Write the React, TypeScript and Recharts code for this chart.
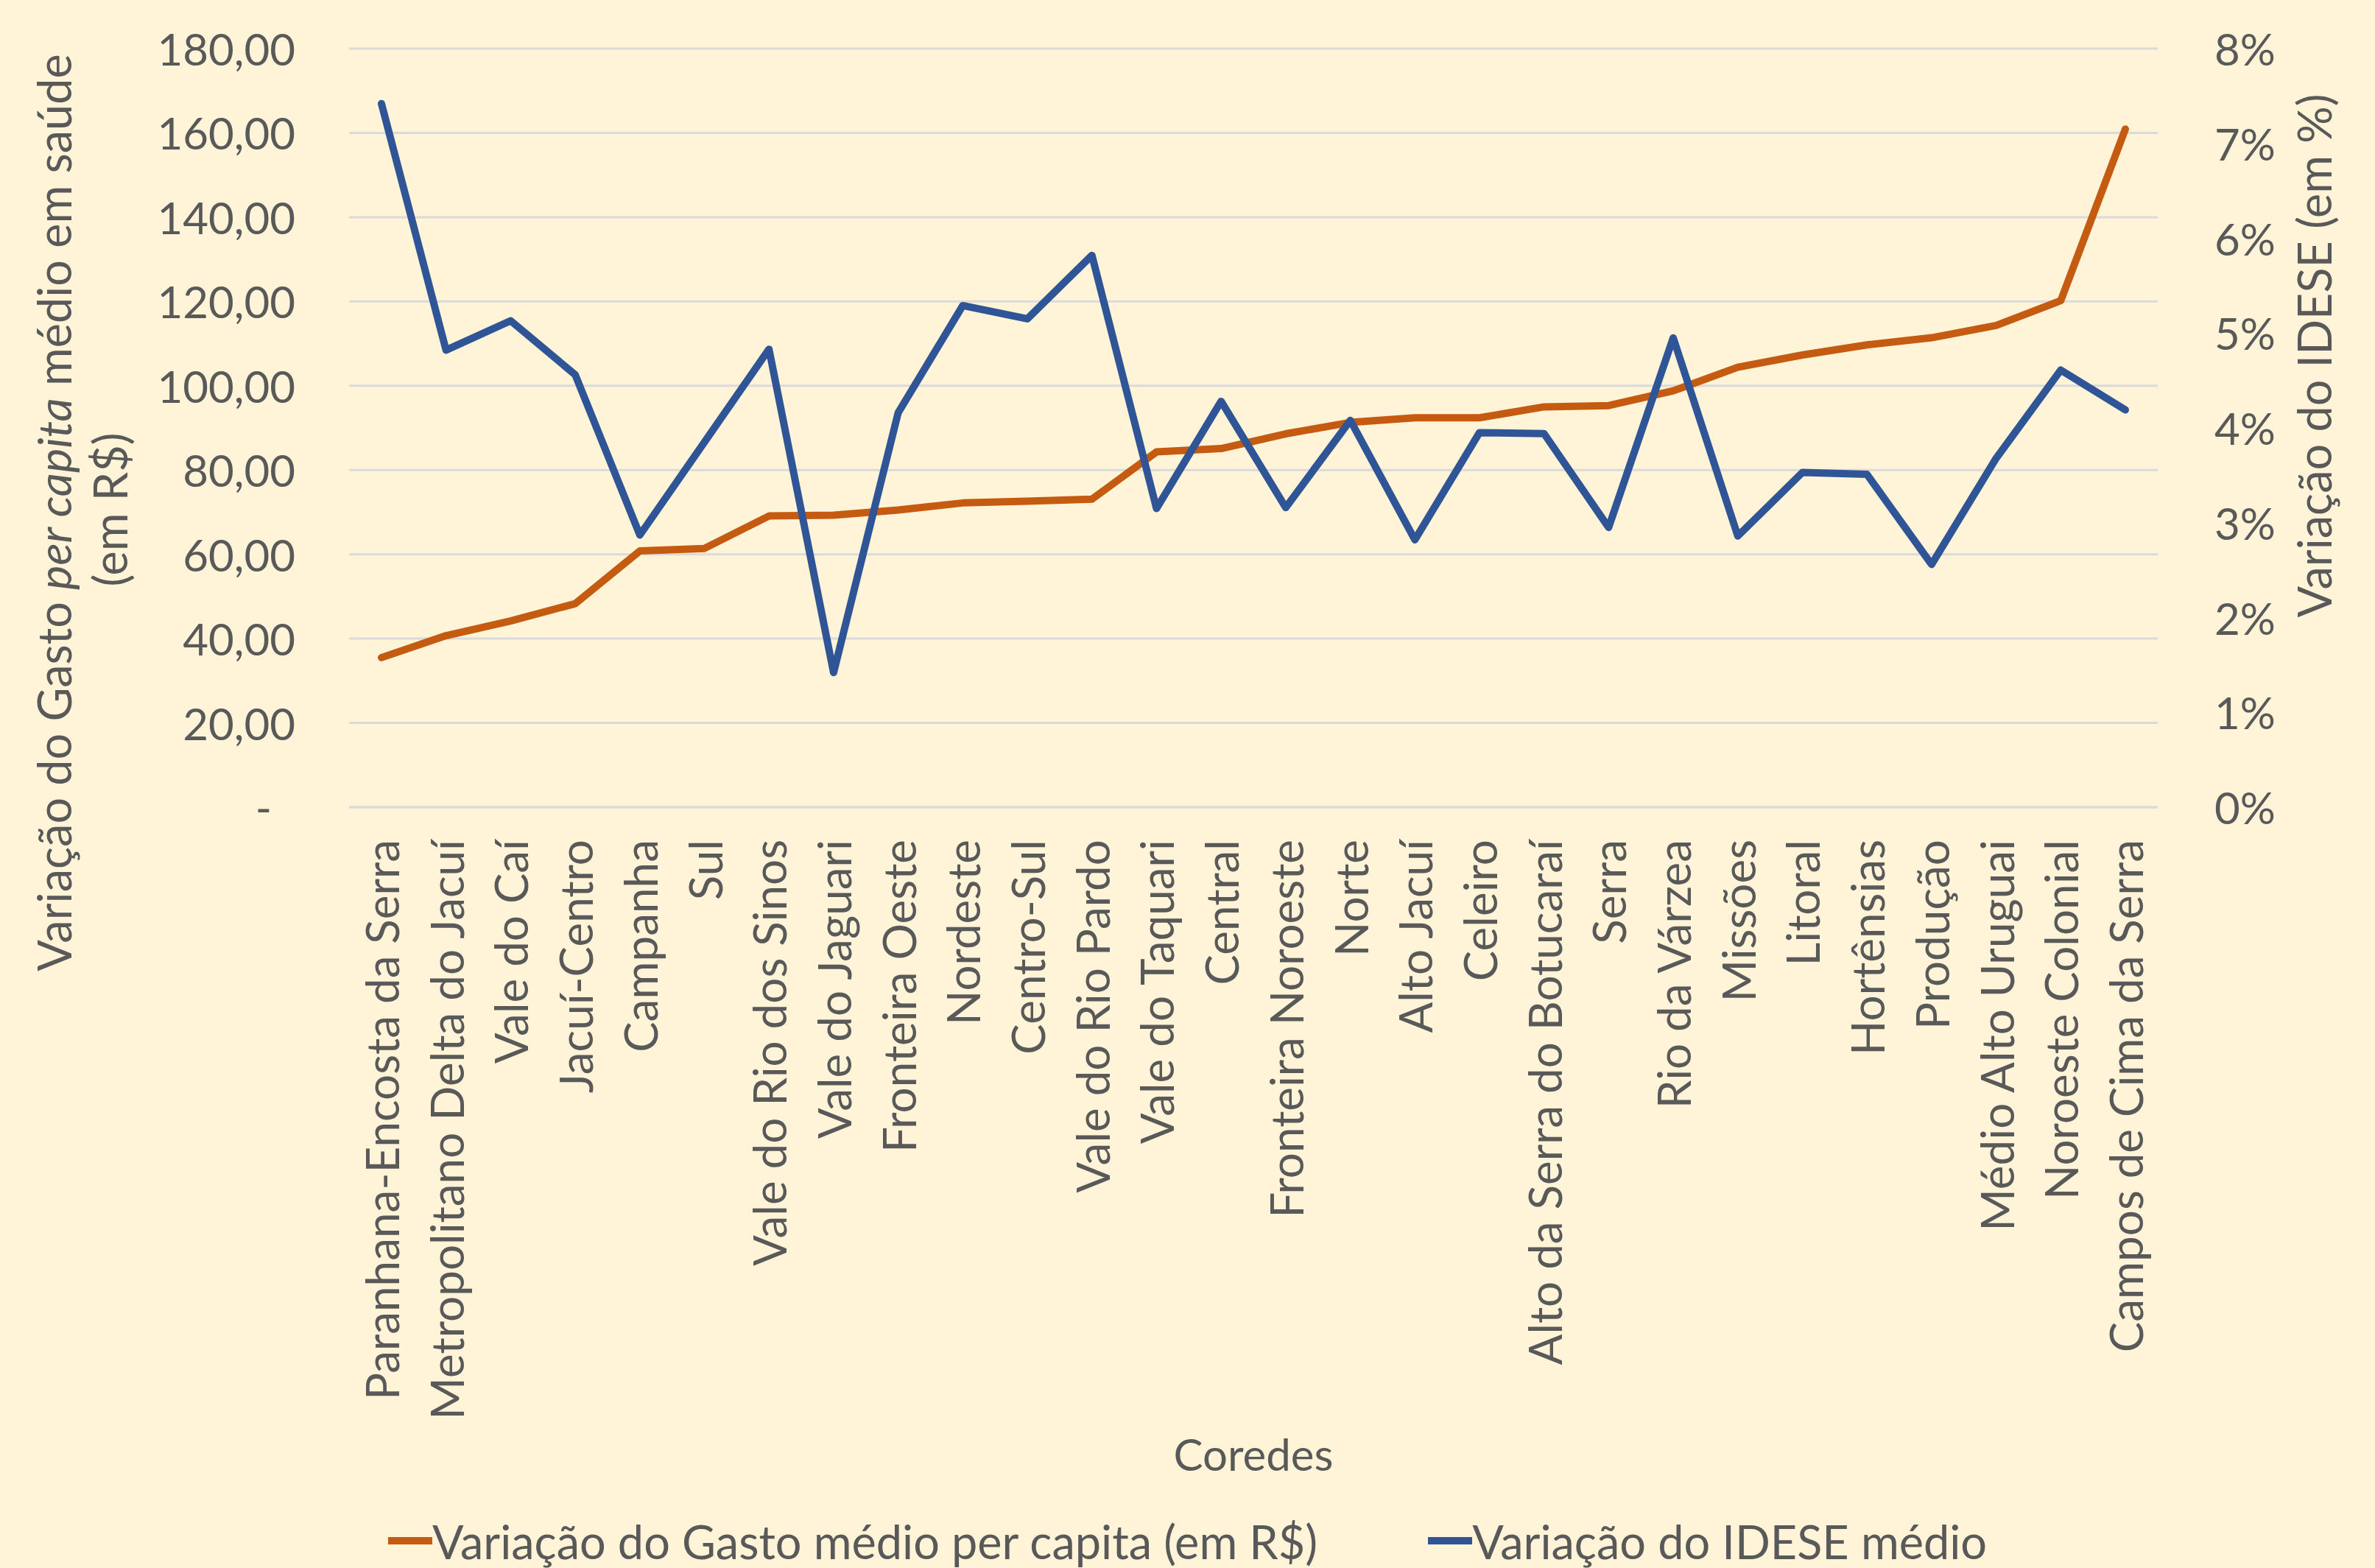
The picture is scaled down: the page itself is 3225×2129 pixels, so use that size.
import { CartesianGrid, Label, Legend, Line, LineChart, XAxis, YAxis } from "recharts";

const categories = [
  "Paranhana-Encosta da Serra",
  "Metropolitano Delta do Jacuí",
  "Vale do Caí",
  "Jacuí-Centro",
  "Campanha",
  "Sul",
  "Vale do Rio dos Sinos",
  "Vale do Jaguari",
  "Fronteira Oeste",
  "Nordeste",
  "Centro-Sul",
  "Vale do Rio Pardo",
  "Vale do Taquari",
  "Central",
  "Fronteira Noroeste",
  "Norte",
  "Alto Jacuí",
  "Celeiro",
  "Alto da Serra do Botucaraí",
  "Serra",
  "Rio da Várzea",
  "Missões",
  "Litoral",
  "Hortênsias",
  "Produção",
  "Médio Alto Uruguai",
  "Noroeste Colonial",
  "Campos de Cima da Serra"
];

// variação do gasto médio per capita (R$)
const gastoPerCapita = [
  35.5, 40.7, 44.2, 48.3, 60.8, 61.4, 69.1, 69.3, 70.5, 72.2, 72.6, 73.1, 84.3, 85.1,
  88.6, 91.3, 92.4, 92.4, 95.0, 95.3, 98.8, 104.4, 107.3, 109.7, 111.4, 114.3, 120.2, 160.9
];

// variação do IDESE médio (%)
const ideseMedio = [
  7.42, 4.82, 5.13, 4.56, 2.87, 3.85, 4.83, 1.42, 4.16, 5.29, 5.15, 5.82, 3.15, 4.28,
  3.16, 4.08, 2.82, 3.95, 3.94, 2.95, 4.95, 2.86, 3.53, 3.51, 2.56, 3.68, 4.61, 4.19
];

const leftTicks = [0, 20, 40, 60, 80, 100, 120, 140, 160, 180];
const rightTicks = [0, 1, 2, 3, 4, 5, 6, 7, 8];

const data = categories.map((name, i) => ({
  name,
  gasto: gastoPerCapita[i],
  idese: ideseMedio[i]
}));

const FONT = "Lato, 'Open Sans', sans-serif";
const TEXT = "#595959";
const FS = 60;
const FS_CAT = 62;
const FS_TITLE = 63;

const CategoryTick = ({ x, y, payload }: any) => (
  <text
    transform={`translate(${x},${y + 44}) rotate(-90)`}
    textAnchor="end"
    dominantBaseline="central"
    fill={TEXT}
    fontSize={FS_CAT}
    fontFamily={FONT}
  >
    {payload.value}
  </text>
);

const LeftTick = ({ x, y, payload }: any) => {
  const v = payload.value as number;
  const label = v === 0 ? "-" : v.toFixed(2).replace(".", ",");
  return (
    <text
      x={v === 0 ? x - 32 : x}
      y={y}
      textAnchor="end"
      dominantBaseline="central"
      fill={TEXT}
      fontSize={FS}
      fontFamily={FONT}
    >
      {label}
    </text>
  );
};

const RightTick = ({ x, y, payload }: any) => (
  <text
    x={x}
    y={y}
    textAnchor="start"
    dominantBaseline="central"
    fill={TEXT}
    fontSize={FS}
    fontFamily={FONT}
  >
    {`${payload.value}%`}
  </text>
);

const LeftTitle = () => (
  <g fill={TEXT} fontSize={FS_TITLE} fontFamily={FONT}>
    <text transform="translate(72,696) rotate(-90)" textAnchor="middle" dominantBaseline="central">
      Variação do Gasto <tspan fontStyle="italic">per capita</tspan> médio em saúde
    </text>
    <text transform="translate(148,692) rotate(-90)" textAnchor="middle" dominantBaseline="central">
      (em R$)
    </text>
  </g>
);

const RightTitle = () => (
  <text
    transform="translate(3141,483) rotate(-90)"
    textAnchor="middle"
    dominantBaseline="central"
    fill={TEXT}
    fontSize={FS_TITLE}
    fontFamily={FONT}
  >
    Variação do IDESE (em %)
  </text>
);

const renderLegend = (props: any) => (
  <div
    style={{
      display: "flex",
      justifyContent: "center",
      alignItems: "center",
      height: 80,
      paddingTop: 6,
      boxSizing: "border-box",
      gap: 150,
      fontFamily: FONT,
      fontSize: FS_TITLE,
      color: TEXT
    }}
  >
    {props.payload.map((entry: any) => (
      <div key={entry.value} style={{ display: "flex", alignItems: "center" }}>
        <span style={{ display: "inline-block", width: 60, height: 10, background: entry.color }} />
        <span>{entry.value}</span>
      </div>
    ))}
  </div>
);

export default function App() {
  return (
    <div style={{ position: "absolute", left: 0, top: 0, width: 3225, height: 2129, background: "#FFF4D8" }}>
      <LineChart width={3225} height={2129} data={data} margin={{ top: 66, right: 0, left: 0, bottom: 0 }}>
        <CartesianGrid yAxisId="left" vertical={false} stroke="#DADADA" strokeWidth={3} />
        <XAxis
          dataKey="name"
          interval={0}
          height={953}
          padding={{ left: 44, right: 44 }}
          axisLine={{ stroke: "#DADADA", strokeWidth: 3 }}
          tickLine={false}
          tickSize={0}
          tickMargin={0}
          tick={<CategoryTick />}
        >
          <Label value="Coredes" position="insideBottom" offset={52} fill={TEXT} fontSize={FS} fontFamily={FONT} />
        </XAxis>
        <YAxis
          yAxisId="left"
          width={474}
          domain={[0, 180]}
          ticks={leftTicks}
          axisLine={false}
          tickLine={false}
          tickSize={0}
          tickMargin={73}
          tick={<LeftTick />}
        >
          <Label content={<LeftTitle />} />
        </YAxis>
        <YAxis
          yAxisId="right"
          orientation="right"
          width={295}
          domain={[0, 8]}
          ticks={rightTicks}
          axisLine={false}
          tickLine={false}
          tickSize={0}
          tickMargin={77}
          tick={<RightTick />}
        >
          <Label content={<RightTitle />} />
        </YAxis>
        <Legend verticalAlign="bottom" content={renderLegend} wrapperStyle={{ height: 80 }} />
        <Line
          yAxisId="left"
          type="linear"
          dataKey="gasto"
          name="Variação do Gasto médio per capita (em R$)"
          stroke="#C55A11"
          strokeWidth={10}
          strokeLinejoin="round"
          strokeLinecap="round"
          dot={false}
          activeDot={false}
          isAnimationActive={false}
        />
        <Line
          yAxisId="right"
          type="linear"
          dataKey="idese"
          name="Variação do IDESE médio"
          stroke="#2F5597"
          strokeWidth={10}
          strokeLinejoin="round"
          strokeLinecap="round"
          dot={false}
          activeDot={false}
          isAnimationActive={false}
        />
      </LineChart>
    </div>
  );
}
